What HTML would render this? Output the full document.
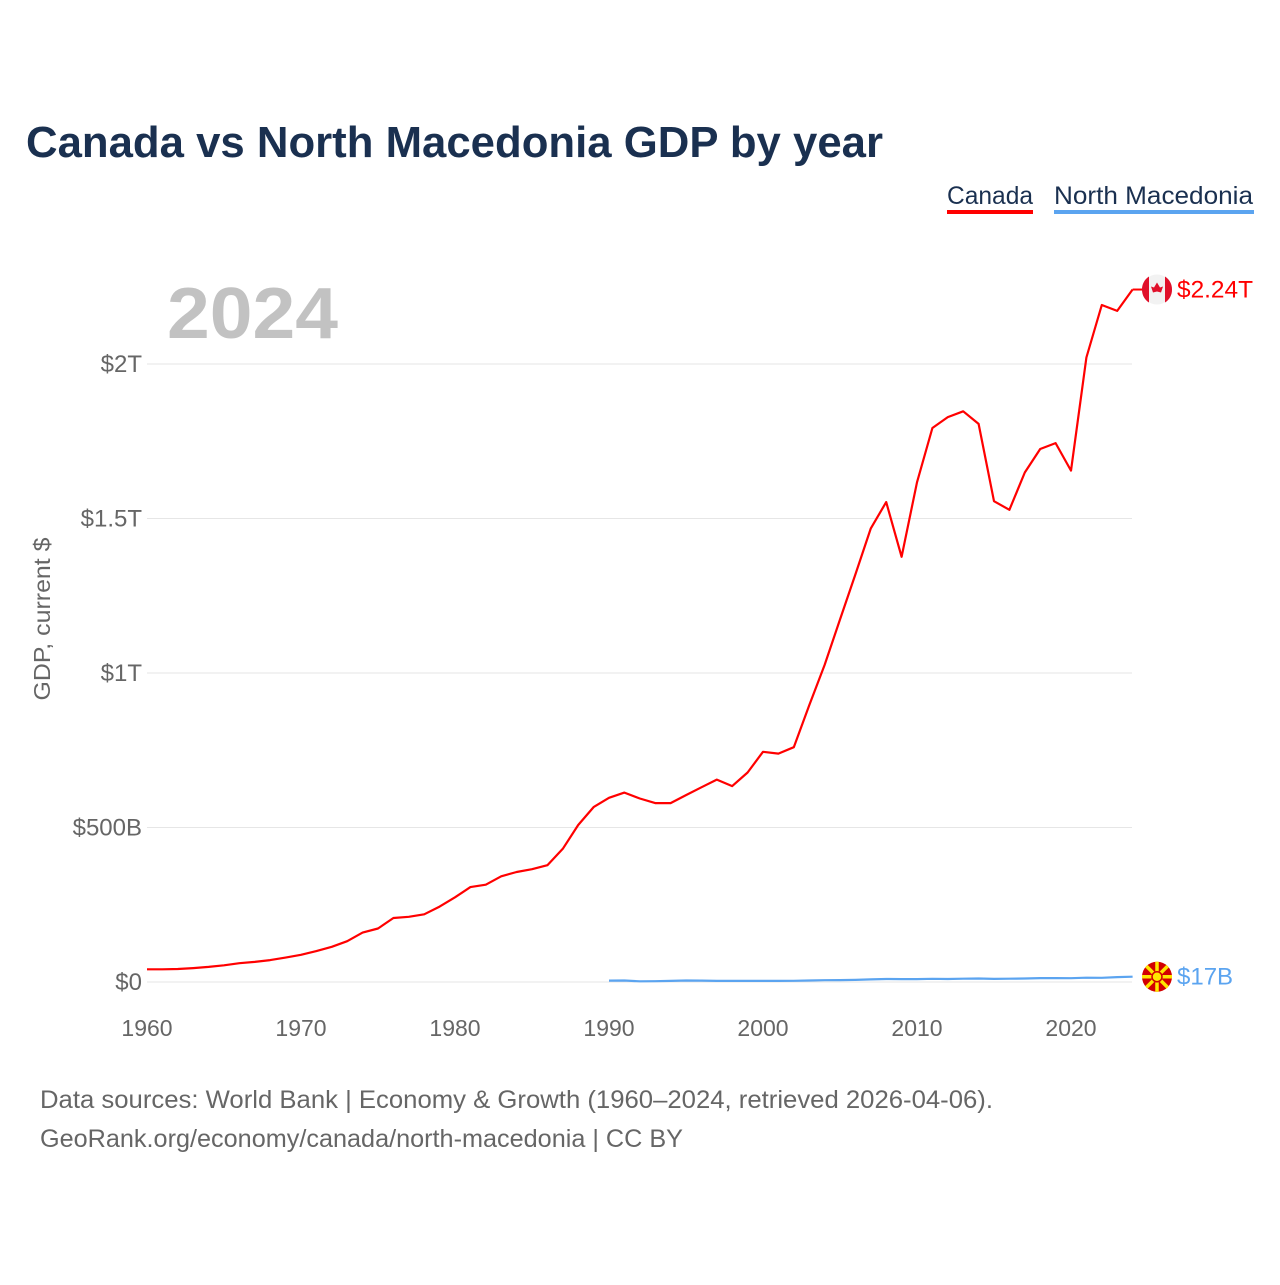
<!DOCTYPE html>
<html><head><meta charset="utf-8">
<style>
body{margin:0;background:#fff;font-family:"Liberation Sans",sans-serif;}
svg text{font-family:"Liberation Sans",sans-serif;}
</style></head>
<body>
<svg id="chart" width="1280" height="1280" viewBox="0 0 1280 1280">
<text x="26" y="157" font-size="44" font-weight="bold" fill="#1a3050" textLength="857" lengthAdjust="spacingAndGlyphs">Canada vs North Macedonia GDP by year</text>
<g><text x="947" y="204" font-size="25" fill="#1a3050" textLength="86" lengthAdjust="spacingAndGlyphs">Canada</text><rect x="947" y="210" width="86" height="4" fill="#ff0000"/></g>
<g><text x="1054" y="204" font-size="25" fill="#1a3050" textLength="199" lengthAdjust="spacingAndGlyphs">North Macedonia</text><rect x="1054" y="210" width="200" height="4" fill="#5ba4f0"/></g>
<text x="167" y="338" font-size="72" font-weight="bold" fill="#c2c2c2" textLength="171" lengthAdjust="spacingAndGlyphs">2024</text>
<text transform="translate(50,619) rotate(-90)" text-anchor="middle" font-size="23" fill="#666" textLength="163" lengthAdjust="spacingAndGlyphs">GDP, current $</text>
<g id="grid"></g><g id="lines"></g>
<text x="40" y="1108" font-size="25" fill="#666" textLength="953" lengthAdjust="spacingAndGlyphs">Data sources: World Bank | Economy &amp; Growth (1960–2024, retrieved 2026-04-06).</text>
<text x="40" y="1147" font-size="25" fill="#666" textLength="643" lengthAdjust="spacingAndGlyphs">GeoRank.org/economy/canada/north-macedonia | CC BY</text>
</svg>
<script>
const yTicks=[0,500,1000,1500,2000];
const yTickLabels=["$0","$500B","$1T","$1.5T","$2T"];
const xTicks=[1960,1970,1980,1990,2000,2010,2020];
const canadaStart=1960;
const canada=[41,41,42,45,49,54,61,65,71,79,88,100,114,132,160,173,207,211,219,244,274,307,315,342,356,365,378,431,508,566,596,613,594,579,579,605,630,655,634,678,745,739,760,895,1026,1173,1319,1468,1553,1376,1617,1793,1828,1847,1806,1556,1528,1649,1725,1744,1655,2021,2191,2172,2241];
const macStart=1990;
const macedonia=[4.5,4.7,2.3,2.5,3.4,4.7,4.6,3.7,3.6,3.7,3.6,3.4,3.8,4.8,5.7,6.3,6.9,8.3,9.8,9.4,9.4,10.5,9.7,10.8,11.4,10.1,10.7,11.3,12.7,12.6,12.4,14,13.6,15.8,17];
const NS="http://www.w3.org/2000/svg";
const x=yr=>147+(yr-1960)*(1071-147)/60;
const y=v=>982-v*(982-364)/2000;
function mk(tag,attrs,parent){const e=document.createElementNS(NS,tag);for(const k in attrs)e.setAttribute(k,attrs[k]);parent.appendChild(e);return e;}
const grid=document.getElementById('grid'),lines=document.getElementById('lines');
yTicks.forEach((t,i)=>{
 const l=mk('line',{x1:147,x2:1132,y1:y(t),y2:y(t),stroke:'#e6e6e6','stroke-width':1},grid);
 
 
 const tx=mk('text',{x:142,y:y(t)+8,'text-anchor':'end','font-size':24,fill:'#666'},grid);
 tx.textContent=yTickLabels[i];
 
 
});
xTicks.forEach(t=>{
 const tx=mk('text',{x:x(t),y:1036,'text-anchor':'middle','font-size':23,fill:'#666'},grid);
 tx.textContent=t;
 
 
});
function path(data,start,color,name){
 const d=data.map((v,i)=>(i?'L':'M')+x(start+i).toFixed(1)+','+y(v).toFixed(1)).join('');
 const p=mk('path',{d:d,fill:'none',stroke:color,'stroke-width':2.2,'stroke-linejoin':'round'},lines);
 
 
}
path(canada,canadaStart,'#ff0000','canada-line');
path(macedonia,macStart,'#5ba4f0','north-macedonia-line');
const cy=y(canada[canada.length-1]);
const cl=mk('line',{x1:x(2024),x2:1142,y1:cy,y2:cy,stroke:'#ff0000','stroke-width':2},lines);


const cf=mk('g',{},lines);


mk('circle',{cx:1157,cy:cy,r:15,fill:'#f2f2f2'},cf);
mk('path',{d:`M1142,${cy} A15,15 0 0 1 1149,${cy-13} L1149,${cy+13} A15,15 0 0 1 1142,${cy}Z`,fill:'#e0102a'},cf);
mk('path',{d:`M1172,${cy} A15,15 0 0 0 1165,${cy-13} L1165,${cy+13} A15,15 0 0 0 1172,${cy}Z`,fill:'#e0102a'},cf);
mk('path',{d:`M1157,${cy-7} L1160,${cy-2} L1163,${cy-3} L1161,${cy+3} L1157,${cy+2} L1153,${cy+3} L1151,${cy-3} L1154,${cy-2}Z`,fill:'#e0102a'},cf);
const ct=mk('text',{x:1177,y:cy+8,'font-size':24,fill:'#ff0000',textLength:76,lengthAdjust:'spacingAndGlyphs'},lines);
ct.textContent='$2.24T';


const my=y(macedonia[macedonia.length-1]);
const mf=mk('g',{},lines);


mk('circle',{cx:1157,cy:my,r:15,fill:'#d20000'},mf);
for(let a=0;a<8;a++){const ang=a*Math.PI/4;mk('line',{x1:1157,y1:my,x2:1157+15*Math.cos(ang),y2:my+15*Math.sin(ang),stroke:'#ffe600','stroke-width':3.5},mf);}
mk('circle',{cx:1157,cy:my,r:5,fill:'#ffe600',stroke:'#d20000','stroke-width':1.5},mf);
const mt=mk('text',{x:1177,y:my+8,'font-size':24,fill:'#5ba4f0'},lines);
mt.textContent='$17B';


</script>
</body></html>
